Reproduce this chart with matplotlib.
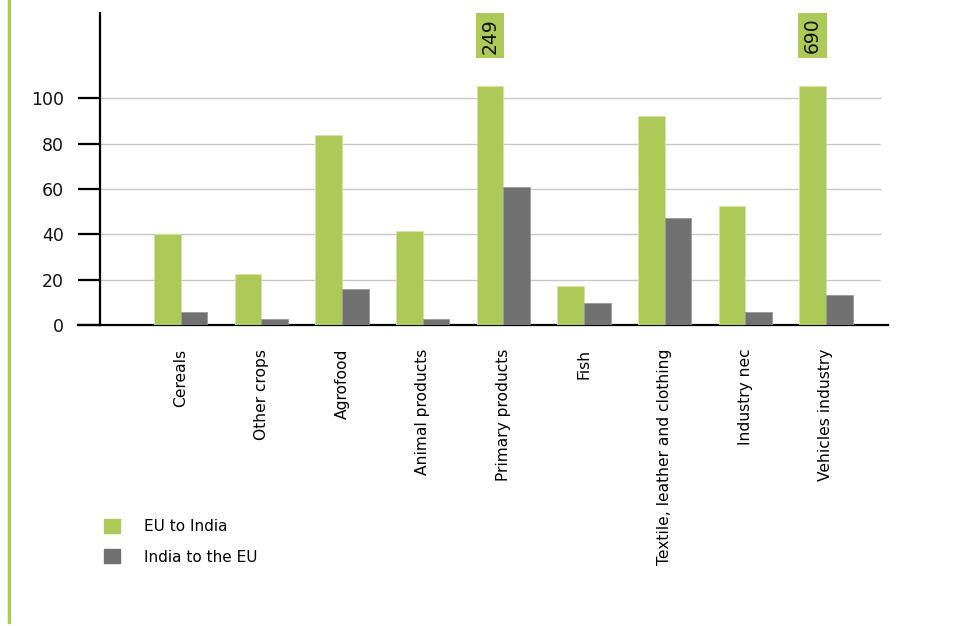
import numpy as np
import matplotlib
matplotlib.use('Agg')
import matplotlib.pyplot as plt
from matplotlib.patches import Patch
from matplotlib.lines import Line2D

categories = ['Cereals', 'Other crops', 'Agrofood', 'Animal products',
              'Primary products', 'Fish', 'Textile, leather and clothing',
              'Industry nec', 'Vehicles industry']
eu_to_india = [40, 22.5, 84, 41.5, 249, 17, 92, 52.5, 690]
india_to_eu = [5.7, 2.6, 16, 2.6, 60.8, 9.7, 47.2, 5.7, 13.2]
y_ticks = [0, 20, 40, 60, 80, 100]
cap = 105.3  # bars above this get cut and labelled

green = '#adc957'
grey = '#717171'

fig = plt.figure(figsize=(9.63, 6.26), dpi=100)
ax = fig.add_axes([100 / 963, 1 - 325 / 626, 788 / 963, 312 / 626])

x = np.arange(len(categories))
w = 0.33
shown = [min(v, cap) for v in eu_to_india]
ax.bar(x - w / 2, shown, w, color=green, edgecolor='#d6e4a6', linewidth=0.6, zorder=3)
ax.bar(x + w / 2, india_to_eu, w, color=grey, edgecolor='#9a9a9a', linewidth=0.6, zorder=3)

for xi, v in zip(x, eu_to_india):
    if v > cap:
        ax.text(xi - w / 2, 127.6, str(v), rotation=90, ha='center', va='center',
                fontsize=13.5, color='#111111',
                bbox=dict(boxstyle='square,pad=0.25', fc=green, ec='none'))

ax.set_xlim(-1.0, 8.77)
ax.set_ylim(0, 137.6)
ax.set_yticks(y_ticks)
ax.set_yticklabels([str(t) for t in y_ticks], fontsize=12.5, color='#111111')
ax.tick_params(axis='y', length=16, width=1.6, pad=10)
ax.set_xticks(x)
ax.set_xticklabels(categories, rotation=90, fontsize=11.2, va='top', ha='center')
ax.tick_params(axis='x', length=0, pad=17)

for t in y_ticks[1:]:
    ax.axhline(t, xmax=0.99, color='#c8c8c8', linewidth=1, zorder=1)

for s in ['top', 'right']:
    ax.spines[s].set_visible(False)
ax.spines['left'].set_linewidth(1.6)
ax.spines['bottom'].set_linewidth(1.6)

# small left extension of the base line
ax.plot([-0.27 - 1.0, -1.0], [0, 0], color='black', lw=1.6, clip_on=False)

# green side rule
fig.add_artist(Line2D([9 / 963, 9 / 963], [1.0, 1 - 622 / 626], color=green, lw=2.5))

handles = [Patch(color=green, label='EU to India'), Patch(color=grey, label='India to the EU')]
fig.legend(handles=handles, loc='upper left', bbox_to_anchor=(90 / 963, 1 - 505 / 626),
           frameon=False, fontsize=11, handlelength=1.05, handleheight=1.05,
           handletextpad=1.6, labelspacing=1.0)

fig.savefig('out.png', dpi=100)
